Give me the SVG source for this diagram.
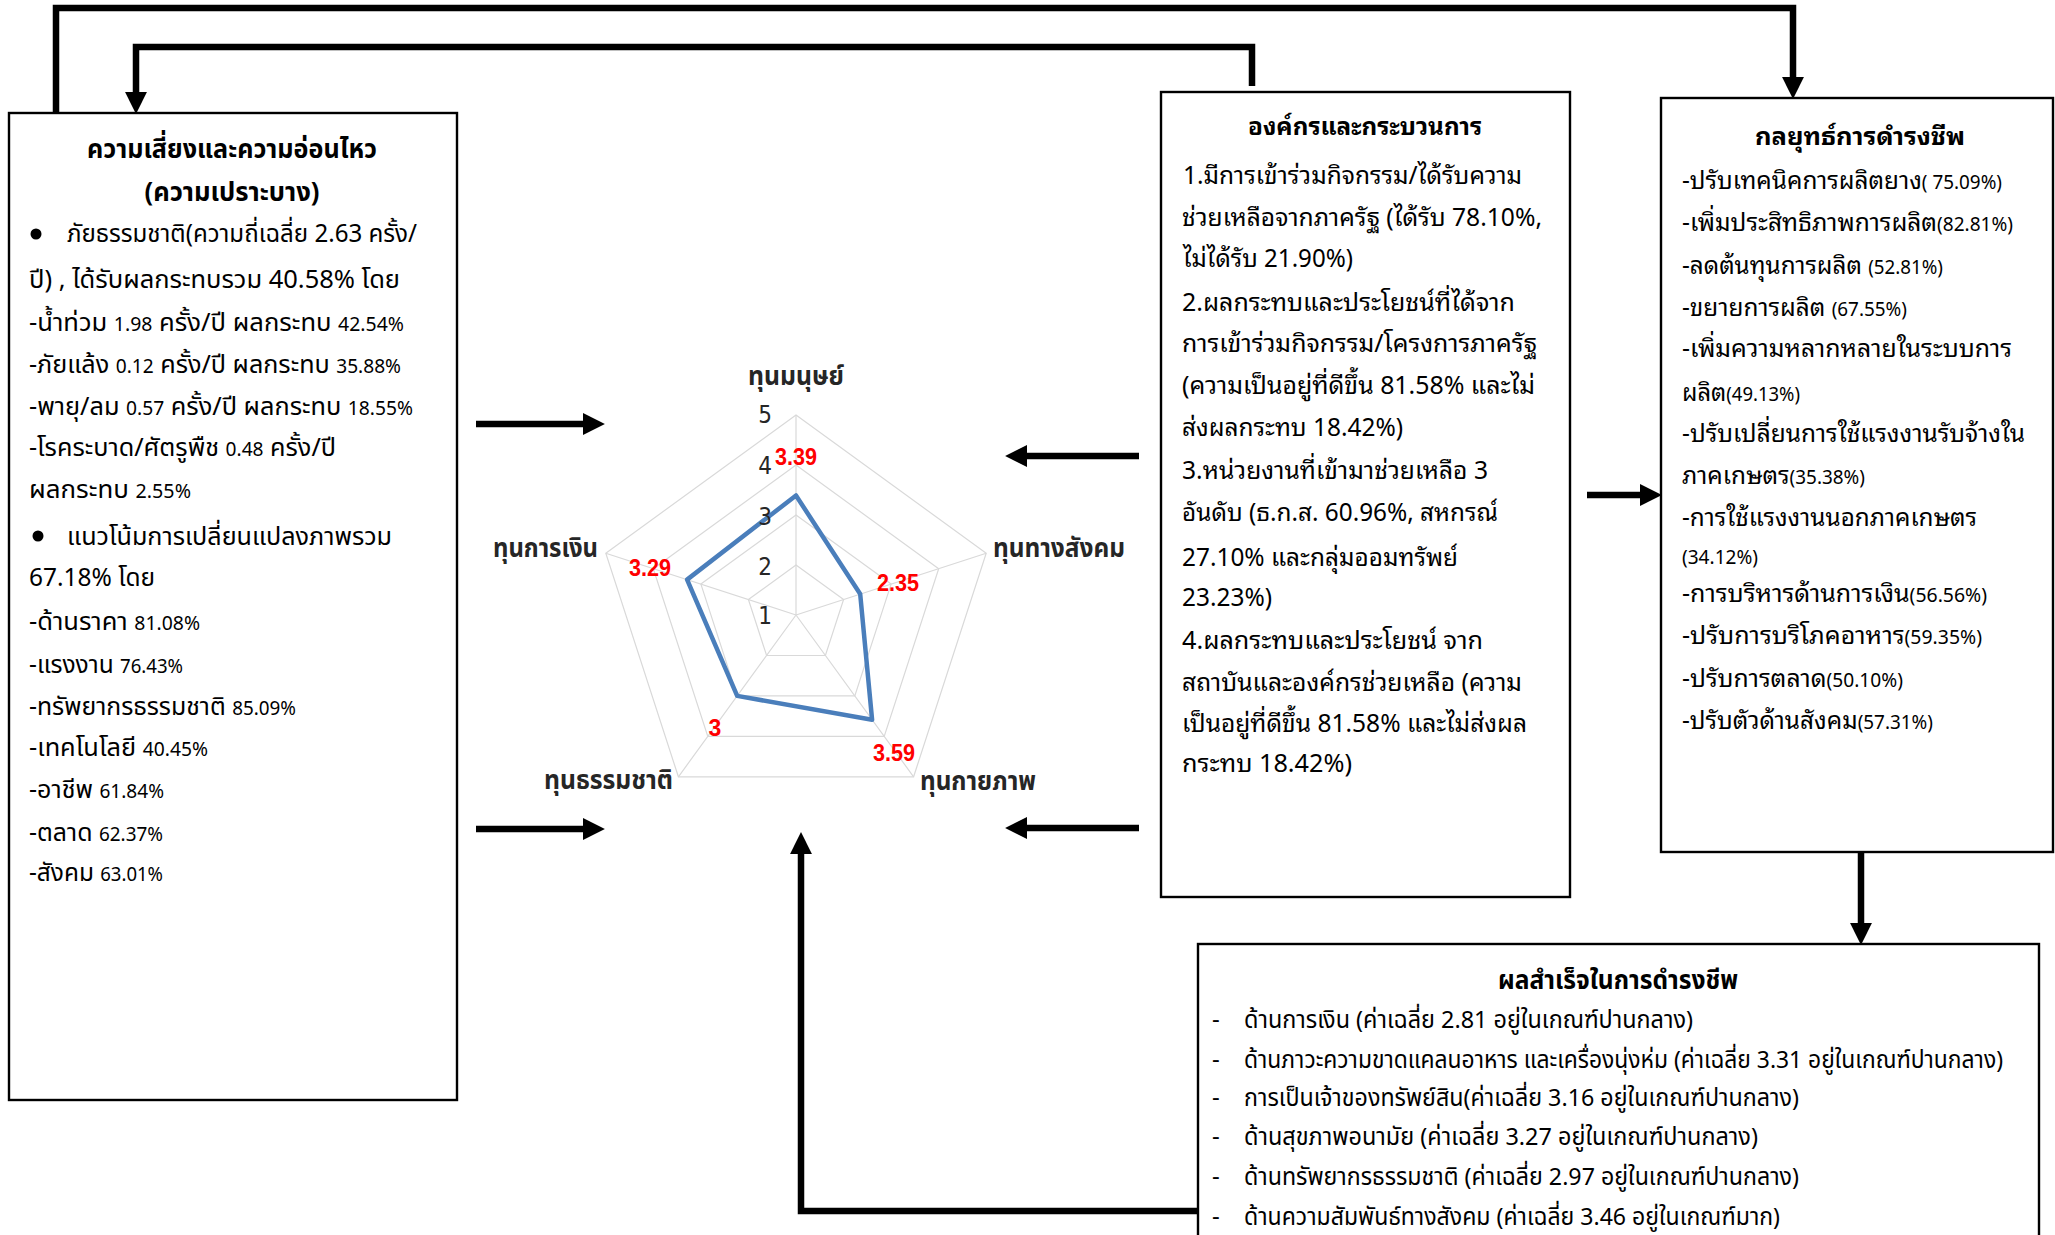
<svg xmlns="http://www.w3.org/2000/svg" width="2055" height="1235" viewBox="0 0 2055 1235">
  <style>
    .box { fill: #ffffff; stroke: #000000; stroke-width: 2.4; }
    .conn { fill: none; stroke: #000000; stroke-width: 6.5; }
    .nar { font-family: "Noto Sans Thai", "Noto Sans", "DejaVu Sans Condensed", sans-serif; font-size: 25px; fill: #000000; }
    .nar-b { font-family: "Noto Sans Thai", "Noto Sans", "DejaVu Sans Condensed", sans-serif; font-size: 27px; font-weight: bold; fill: #000000; }
    .out { font-size: 24px; }
    .loop { font-family: "Noto Sans Thai Looped", "Noto Sans Thai", "Noto Sans", sans-serif; font-size: 24.5px; fill: #000000; }
    .loop-b { font-family: "Noto Sans Thai Looped", "Noto Sans Thai", "Noto Sans", sans-serif; font-size: 25px; font-weight: bold; fill: #000000; }
    .sm { font-size: 19px; }
    .grid { fill: none; stroke: #d9d9d9; stroke-width: 1.2; }
    .series { fill: none; stroke: #4a7ebb; stroke-width: 4.5; stroke-linejoin: round; }
    .tick { font-family: "DejaVu Sans Condensed", "Liberation Sans", sans-serif; font-size: 24px; fill: #262626; text-anchor: middle; }
    .val { font-family: "Liberation Sans", "DejaVu Sans", sans-serif; font-size: 23px; font-weight: bold; fill: #ff0000; text-anchor: middle; }
    .axis { font-family: "Noto Sans Thai", "Noto Sans", sans-serif; font-size: 27px; font-weight: bold; fill: #262626; }
  </style>
  <defs>
    <marker id="head" markerUnits="userSpaceOnUse" markerWidth="22" markerHeight="22" viewBox="0 0 20 20" refX="1" refY="10" orient="auto">
      <path d="M0,0 L20,10 L0,20 Z" fill="#000000"/>
    </marker>
  </defs>

  <rect width="2055" height="1235" fill="#ffffff"/>

  <!-- Risk and vulnerability -->
  <g id="risk">
    <rect class="box" x="9" y="113" width="448" height="987"/>
    <text class="nar-b" x="232" y="158" text-anchor="middle" textLength="290" lengthAdjust="spacingAndGlyphs">ความเสี่ยงและความอ่อนไหว</text>
    <text class="nar-b" x="232" y="201" text-anchor="middle" textLength="175" lengthAdjust="spacingAndGlyphs">(ความเปราะบาง)</text>
    <circle cx="36" cy="234" r="5.5" fill="#000000"/>
    <text class="nar" x="67" y="242" textLength="350" lengthAdjust="spacingAndGlyphs">ภัยธรรมชาติ(ความถี่เฉลี่ย 2.63 ครั้ง/</text>
    <text class="nar" x="29" y="288" textLength="371" lengthAdjust="spacingAndGlyphs">ปี) , ได้รับผลกระทบรวม 40.58% โดย</text>
    <text class="nar" x="29" y="331" textLength="375" lengthAdjust="spacingAndGlyphs">-น้ำท่วม <tspan class="sm">1.98</tspan> ครั้ง/ปี ผลกระทบ <tspan class="sm">42.54%</tspan></text>
    <text class="nar" x="29" y="373" textLength="372" lengthAdjust="spacingAndGlyphs">-ภัยแล้ง <tspan class="sm">0.12</tspan> ครั้ง/ปี ผลกระทบ <tspan class="sm">35.88%</tspan></text>
    <text class="nar" x="29" y="415" textLength="384" lengthAdjust="spacingAndGlyphs">-พายุ/ลม <tspan class="sm">0.57</tspan> ครั้ง/ปี ผลกระทบ <tspan class="sm">18.55%</tspan></text>
    <text class="nar" x="29" y="456" textLength="307" lengthAdjust="spacingAndGlyphs">-โรคระบาด/ศัตรูพืช <tspan class="sm">0.48</tspan> ครั้ง/ปี</text>
    <text class="nar" x="29" y="498" textLength="162" lengthAdjust="spacingAndGlyphs">ผลกระทบ <tspan class="sm">2.55%</tspan></text>
    <circle cx="38" cy="536" r="5.5" fill="#000000"/>
    <text class="nar" x="67" y="545" textLength="325" lengthAdjust="spacingAndGlyphs">แนวโน้มการเปลี่ยนแปลงภาพรวม</text>
    <text class="nar" x="29" y="586" textLength="126" lengthAdjust="spacingAndGlyphs">67.18% โดย</text>
    <text class="nar" x="29" y="630" textLength="171" lengthAdjust="spacingAndGlyphs">-ด้านราคา <tspan class="sm">81.08%</tspan></text>
    <text class="nar" x="29" y="673" textLength="154" lengthAdjust="spacingAndGlyphs">-แรงงาน <tspan class="sm">76.43%</tspan></text>
    <text class="nar" x="29" y="715" textLength="267" lengthAdjust="spacingAndGlyphs">-ทรัพยากรธรรมชาติ <tspan class="sm">85.09%</tspan></text>
    <text class="nar" x="29" y="756" textLength="179" lengthAdjust="spacingAndGlyphs">-เทคโนโลยี <tspan class="sm">40.45%</tspan></text>
    <text class="nar" x="29" y="798" textLength="135" lengthAdjust="spacingAndGlyphs">-อาชีพ <tspan class="sm">61.84%</tspan></text>
    <text class="nar" x="29" y="841" textLength="134" lengthAdjust="spacingAndGlyphs">-ตลาด <tspan class="sm">62.37%</tspan></text>
    <text class="nar" x="29" y="881" textLength="134" lengthAdjust="spacingAndGlyphs">-สังคม <tspan class="sm">63.01%</tspan></text>
  </g>

  <!-- Livelihood assets radar chart -->
  <g id="assets">
    <g class="grid">
      <polygon points="796,415 986.2,553.2 913.6,776.8 678.4,776.8 605.8,553.2"/>
      <polygon points="796,465 938.7,568.7 884.2,736.4 707.8,736.4 653.3,568.7"/>
      <polygon points="796,515 891.1,584.1 854.8,695.9 737.2,695.9 700.9,584.1"/>
      <polygon points="796,565 843.6,599.5 825.4,655.5 766.6,655.5 748.4,599.5"/>
      <path d="M796,615 L796,415 M796,615 L986.2,553.2 M796,615 L913.6,776.8 M796,615 L678.4,776.8 M796,615 L605.8,553.2"/>
    </g>
    <polygon class="series" points="796,495.5 860.2,594.1 872.1,719.8 737.2,695.9 687.1,579.6"/>
    <text class="tick" x="765" y="423">5</text>
    <text class="tick" x="765" y="474">4</text>
    <text class="tick" x="765" y="525">3</text>
    <text class="tick" x="765" y="575">2</text>
    <text class="tick" x="765" y="624">1</text>
    <text class="val" x="796" y="465" textLength="42" lengthAdjust="spacingAndGlyphs">3.39</text>
    <text class="val" x="898" y="591" textLength="42" lengthAdjust="spacingAndGlyphs">2.35</text>
    <text class="val" x="894" y="761" textLength="42" lengthAdjust="spacingAndGlyphs">3.59</text>
    <text class="val" x="715" y="736">3</text>
    <text class="val" x="650" y="576" textLength="42" lengthAdjust="spacingAndGlyphs">3.29</text>
    <text class="axis" x="796" y="385" text-anchor="middle" textLength="96" lengthAdjust="spacingAndGlyphs">ทุนมนุษย์</text>
    <text class="axis" x="993" y="557" textLength="132" lengthAdjust="spacingAndGlyphs">ทุนทางสังคม</text>
    <text class="axis" x="920" y="790" textLength="116" lengthAdjust="spacingAndGlyphs">ทุนกายภาพ</text>
    <text class="axis" x="544" y="789" textLength="129" lengthAdjust="spacingAndGlyphs">ทุนธรรมชาติ</text>
    <text class="axis" x="493" y="557" textLength="105" lengthAdjust="spacingAndGlyphs">ทุนการเงิน</text>
  </g>

  <!-- Organisations and processes -->
  <g id="organisations">
    <rect class="box" x="1161" y="92" width="409" height="805"/>
    <text class="loop-b" x="1365" y="135" text-anchor="middle" textLength="234" lengthAdjust="spacingAndGlyphs">องค์กรและกระบวนการ</text>
    <text class="loop" x="1183" y="184" textLength="339" lengthAdjust="spacingAndGlyphs">1.มีการเข้าร่วมกิจกรรม/ได้รับความ</text>
    <text class="loop" x="1182" y="226" textLength="360" lengthAdjust="spacingAndGlyphs">ช่วยเหลือจากภาครัฐ (ได้รับ 78.10%,</text>
    <text class="loop" x="1183" y="267" textLength="170" lengthAdjust="spacingAndGlyphs">ไม่ได้รับ 21.90%)</text>
    <text class="loop" x="1182" y="311" textLength="333" lengthAdjust="spacingAndGlyphs">2.ผลกระทบและประโยชน์ที่ได้จาก</text>
    <text class="loop" x="1182" y="352" textLength="355" lengthAdjust="spacingAndGlyphs">การเข้าร่วมกิจกรรม/โครงการภาครัฐ</text>
    <text class="loop" x="1182" y="394" textLength="353" lengthAdjust="spacingAndGlyphs">(ความเป็นอยู่ที่ดีขึ้น 81.58% และไม่</text>
    <text class="loop" x="1182" y="436" textLength="221" lengthAdjust="spacingAndGlyphs">ส่งผลกระทบ 18.42%)</text>
    <text class="loop" x="1182" y="479" textLength="306" lengthAdjust="spacingAndGlyphs">3.หน่วยงานที่เข้ามาช่วยเหลือ 3</text>
    <text class="loop" x="1182" y="521" textLength="316" lengthAdjust="spacingAndGlyphs">อันดับ (ธ.ก.ส. 60.96%, สหกรณ์</text>
    <text class="loop" x="1182" y="566" textLength="276" lengthAdjust="spacingAndGlyphs">27.10% และกลุ่มออมทรัพย์</text>
    <text class="loop" x="1182" y="606" textLength="90" lengthAdjust="spacingAndGlyphs">23.23%)</text>
    <text class="loop" x="1182" y="649" textLength="301" lengthAdjust="spacingAndGlyphs">4.ผลกระทบและประโยชน์ จาก</text>
    <text class="loop" x="1182" y="691" textLength="340" lengthAdjust="spacingAndGlyphs">สถาบันและองค์กรช่วยเหลือ (ความ</text>
    <text class="loop" x="1182" y="732" textLength="345" lengthAdjust="spacingAndGlyphs">เป็นอยู่ที่ดีขึ้น 81.58% และไม่ส่งผล</text>
    <text class="loop" x="1182" y="772" textLength="170" lengthAdjust="spacingAndGlyphs">กระทบ 18.42%)</text>
  </g>

  <!-- Livelihood strategies -->
  <g id="strategies">
    <rect class="box" x="1661" y="98" width="392" height="754"/>
    <text class="loop-b" x="1860" y="145" text-anchor="middle" textLength="210" lengthAdjust="spacingAndGlyphs">กลยุทธ์การดำรงชีพ</text>
    <text class="loop" x="1682" y="189" textLength="320" lengthAdjust="spacingAndGlyphs">-ปรับเทคนิคการผลิตยาง<tspan class="sm">( 75.09%)</tspan></text>
    <text class="loop" x="1682" y="231" textLength="331" lengthAdjust="spacingAndGlyphs">-เพิ่มประสิทธิภาพการผลิต<tspan class="sm">(82.81%)</tspan></text>
    <text class="loop" x="1682" y="274" textLength="261" lengthAdjust="spacingAndGlyphs">-ลดต้นทุนการผลิต <tspan class="sm">(52.81%)</tspan></text>
    <text class="loop" x="1682" y="316" textLength="225" lengthAdjust="spacingAndGlyphs">-ขยายการผลิต <tspan class="sm">(67.55%)</tspan></text>
    <text class="loop" x="1682" y="357" textLength="330" lengthAdjust="spacingAndGlyphs">-เพิ่มความหลากหลายในระบบการ</text>
    <text class="loop" x="1682" y="401" textLength="118" lengthAdjust="spacingAndGlyphs">ผลิต<tspan class="sm">(49.13%)</tspan></text>
    <text class="loop" x="1682" y="442" textLength="343" lengthAdjust="spacingAndGlyphs">-ปรับเปลี่ยนการใช้แรงงานรับจ้างใน</text>
    <text class="loop" x="1682" y="484" textLength="183" lengthAdjust="spacingAndGlyphs">ภาคเกษตร<tspan class="sm">(35.38%)</tspan></text>
    <text class="loop" x="1682" y="526" textLength="295" lengthAdjust="spacingAndGlyphs">-การใช้แรงงานนอกภาคเกษตร</text>
    <text class="loop" x="1682" y="564" textLength="76" lengthAdjust="spacingAndGlyphs"><tspan class="sm">(34.12%)</tspan></text>
    <text class="loop" x="1682" y="602" textLength="305" lengthAdjust="spacingAndGlyphs">-การบริหารด้านการเงิน<tspan class="sm">(56.56%)</tspan></text>
    <text class="loop" x="1682" y="644" textLength="300" lengthAdjust="spacingAndGlyphs">-ปรับการบริโภคอาหาร<tspan class="sm">(59.35%)</tspan></text>
    <text class="loop" x="1682" y="687" textLength="221" lengthAdjust="spacingAndGlyphs">-ปรับการตลาด<tspan class="sm">(50.10%)</tspan></text>
    <text class="loop" x="1682" y="729" textLength="251" lengthAdjust="spacingAndGlyphs">-ปรับตัวด้านสังคม<tspan class="sm">(57.31%)</tspan></text>
  </g>

  <!-- Livelihood outcomes -->
  <g id="outcomes">
    <rect class="box" x="1198" y="944" width="841" height="300"/>
    <text class="nar-b" x="1618" y="989" text-anchor="middle" textLength="240" lengthAdjust="spacingAndGlyphs">ผลสำเร็จในการดำรงชีพ</text>
    <text class="nar out" x="1212" y="1027">-</text>
    <text class="nar out" x="1244" y="1028" textLength="449" lengthAdjust="spacingAndGlyphs">ด้านการเงิน (ค่าเฉลี่ย 2.81 อยู่ในเกณฑ์ปานกลาง)</text>
    <text class="nar out" x="1212" y="1067">-</text>
    <text class="nar out" x="1244" y="1068" textLength="759" lengthAdjust="spacingAndGlyphs">ด้านภาวะความขาดแคลนอาหาร และเครื่องนุ่งห่ม (ค่าเฉลี่ย 3.31 อยู่ในเกณฑ์ปานกลาง)</text>
    <text class="nar out" x="1212" y="1105">-</text>
    <text class="nar out" x="1244" y="1106" textLength="555" lengthAdjust="spacingAndGlyphs">การเป็นเจ้าของทรัพย์สิน(ค่าเฉลี่ย 3.16 อยู่ในเกณฑ์ปานกลาง)</text>
    <text class="nar out" x="1212" y="1144">-</text>
    <text class="nar out" x="1244" y="1145" textLength="514" lengthAdjust="spacingAndGlyphs">ด้านสุขภาพอนามัย (ค่าเฉลี่ย 3.27 อยู่ในเกณฑ์ปานกลาง)</text>
    <text class="nar out" x="1212" y="1184">-</text>
    <text class="nar out" x="1244" y="1185" textLength="555" lengthAdjust="spacingAndGlyphs">ด้านทรัพยากรธรรมชาติ (ค่าเฉลี่ย 2.97 อยู่ในเกณฑ์ปานกลาง)</text>
    <text class="nar out" x="1212" y="1224">-</text>
    <text class="nar out" x="1244" y="1225" textLength="536" lengthAdjust="spacingAndGlyphs">ด้านความสัมพันธ์ทางสังคม (ค่าเฉลี่ย 3.46 อยู่ในเกณฑ์มาก)</text>
  </g>

  <!-- Connectors -->
  <g id="connectors">
    <path class="conn" d="M56,113 V8 H1793 V78" marker-end="url(#head)"/>
    <path class="conn" d="M1252,86 V47 H136 V93" marker-end="url(#head)"/>
    <path class="conn" d="M476,424 H584" marker-end="url(#head)"/>
    <path class="conn" d="M476,829 H584" marker-end="url(#head)"/>
    <path class="conn" d="M1139,456 H1026" marker-end="url(#head)"/>
    <path class="conn" d="M1139,828 H1026" marker-end="url(#head)"/>
    <path class="conn" d="M1587,495 H1641" marker-end="url(#head)"/>
    <path class="conn" d="M1861,852 V924" marker-end="url(#head)"/>
    <path class="conn" d="M1198,1211 H801 V853" marker-end="url(#head)"/>
  </g>
</svg>
